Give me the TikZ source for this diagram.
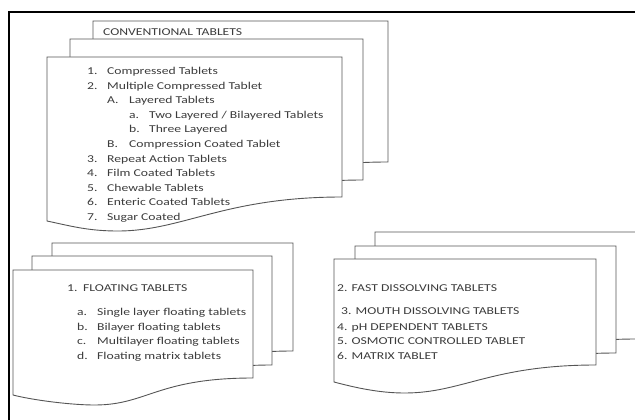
\documentclass[tikz,border=0pt]{standalone}
\usepackage{fontspec}
\setmainfont{Carlito}[FakeStretch=1.3]
\definecolor{txtgray}{HTML}{3C3C3C}
\definecolor{linegray}{HTML}{555555}
\tikzset{
  sheet/.style={draw=linegray, line width=0.9pt, fill=white},
  frameline/.style={draw=black, line width=1.6pt},
  lbl/.style={anchor=base west, inner sep=0pt, text=txtgray, font=\fontsize{10.5}{12}\selectfont},
}
% #1 x0, #2 y0, #3 width, #4 height (right edge), #5 left drop, #6 min drop, #7 min x fraction
\newcommand\docsheet[7]{%
  \filldraw[sheet, shift={(#1,#2)}] (0,0) -- ({#3},0) -- ({#3},{#4})
    .. controls +({-0.4*#3},0) and +({0.22*#3},0) .. ({#7*#3},{#4+#6})
    .. controls +({-0.1*#3},0) and +({0.08*#3},{0.5*(#6-#5)}) .. (0,{#4+#5}) -- cycle;}
\newcommand\itm[3]{\makebox[#1][l]{#2}#3}
\begin{document}
\begin{tikzpicture}[x=1pt,y=-1pt]
\useasboundingbox (0,0) rectangle (635,420);
\fill[white] (0,0) rectangle (635,420);
% outer frame (cut off at right and bottom)
\draw[frameline] (9,430) -- (9,12) -- (645,12);

% top multidocument
\docsheet{93}{21}{295}{141}{24}{34}{0.24}
\docsheet{70}{39}{293}{141}{24}{34}{0.24}
\docsheet{47}{57}{295}{140}{24}{34}{0.24}

% bottom-left multidocument
\docsheet{52}{243}{241}{108}{17}{27}{0.34}
\docsheet{32}{256}{240}{109}{17}{27}{0.34}
\docsheet{13}{270}{240}{108}{17}{27}{0.34}

% bottom-right multidocument
\docsheet{375}{232}{262}{107}{17}{28}{0.27}
\docsheet{355}{246}{261}{107}{17}{28}{0.27}
\docsheet{334}{259}{262}{106}{17}{28}{0.27}

% texts: top
\node[lbl] (ct) at (103,35.5) {CONVENTIONAL TABLETS};
\node[lbl] (t1) at (87,74.5) {\itm{20pt}{1.}{Compressed Tablets}};
\node[lbl] (t2) at (87,89.1) {\itm{20pt}{2.}{Multiple Compressed Tablet}};
\node[lbl] (t2a) at (107,103.7) {\itm{22pt}{A.}{Layered Tablets}};
\node[lbl] (t2aa) at (129,118.3) {\itm{20pt}{a.}{Two Layered / Bilayered Tablets}};
\node[lbl] (t2ab) at (129,132.9) {\itm{20pt}{b.}{Three Layered}};
\node[lbl] (t2b) at (107,147.5) {\itm{22pt}{B.}{Compression Coated Tablet}};
\node[lbl] (t3) at (87,162.1) {\itm{20pt}{3.}{Repeat Action Tablets}};
\node[lbl] (t4) at (87,176.7) {\itm{20pt}{4.}{Film Coated Tablets}};
\node[lbl] (t5) at (87,191.3) {\itm{20pt}{5.}{Chewable Tablets}};
\node[lbl] (t6) at (87,205.9) {\itm{20pt}{6.}{Enteric Coated Tablets}};
\node[lbl] (t7) at (87,220.5) {\itm{20pt}{7.}{Sugar Coated}};

% texts: bottom-left
\node[lbl] (f1) at (67,291.5) {\itm{16pt}{1.}{FLOATING TABLETS}};
\node[lbl] (fa) at (77,315.5) {\itm{20pt}{a.}{Single layer floating tablets}};
\node[lbl] (fb) at (77,330.3) {\itm{20pt}{b.}{Bilayer floating tablets}};
\node[lbl] (fc) at (77,344.8) {\itm{20pt}{c.}{Multilayer floating tablets}};
\node[lbl] (fd) at (77,359.5) {\itm{20pt}{d.}{Floating matrix tablets}};

% texts: bottom-right
\node[lbl] (r2) at (337,291.5) {\itm{14.5pt}{2.}{FAST DISSOLVING TABLETS}};
\node[lbl] (r3) at (341,314.5) {3. MOUTH DISSOLVING TABLETS};
\node[lbl] (r4) at (337,330.3) {4. pH DEPENDENT TABLETS};
\node[lbl] (r5) at (337,344.8) {5. OSMOTIC CONTROLLED TABLET};
\node[lbl] (r6) at (337,359.5) {6. MATRIX TABLET};
\end{tikzpicture}
\end{document}
